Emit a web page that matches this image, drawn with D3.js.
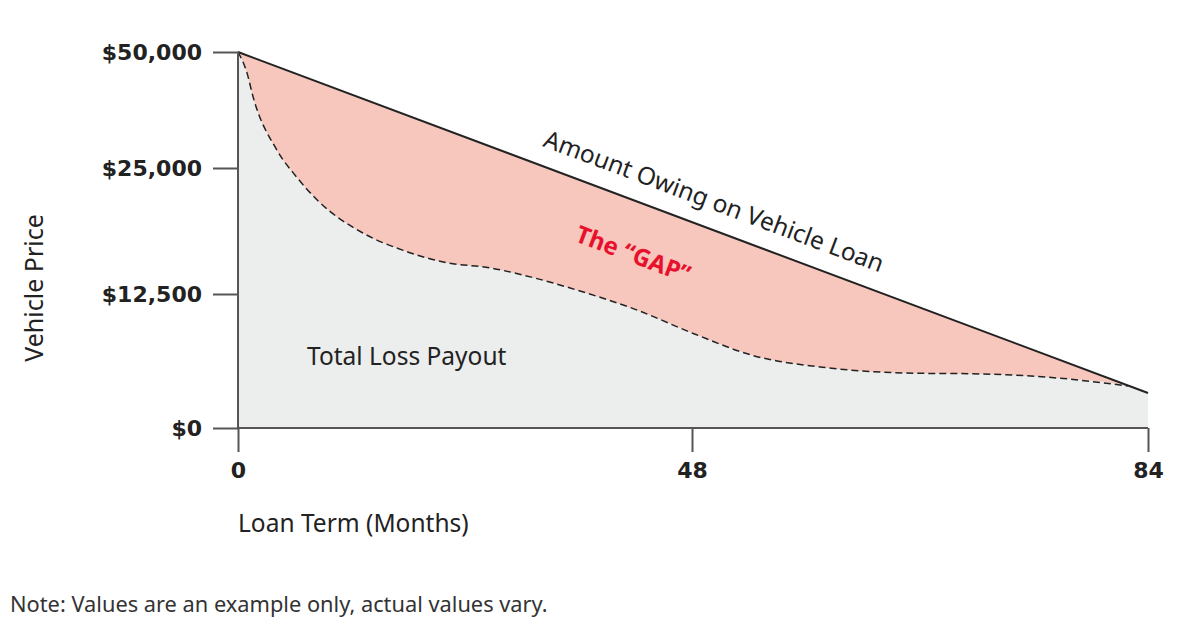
<!DOCTYPE html>
<html>
<head>
<meta charset="utf-8">
<script src="https://cdn.jsdelivr.net/npm/d3@7/dist/d3.min.js"></script>
<style>
  body { margin: 0; background: #fff; }
  text { font-family: "Noto Sans", "Open Sans", sans-serif; fill: #222; }
  .tick-label { font-family: "DejaVu Sans", sans-serif; font-weight: bold; font-size: 22px; }
</style>
</head>
<body>
<svg id="chart" width="1200" height="642"></svg>
<script>
// values
const yTicks = [0, 12500, 25000, 50000];
const yTickLabels = ["$0", "$12,500", "$25,000", "$50,000"];
const xTicks = [0, 48, 84];
const xTickLabels = ["0", "48", "84"];

const loanMonths = [0, 84];
const loanValues = [50000, 3265];

const payoutMonths = [0, 0.95, 1.6, 4.1, 6.2, 8.4, 13.2, 17.4, 22.1, 26.6, 30.9, 35.8, 42.2, 48.2, 52.7, 58.8, 64.8, 70.9, 76.9, 82.4];
const payoutValues = [50000, 45500, 40300, 28900, 24100, 21800, 18550, 16850, 15600, 15100, 14200, 12900, 11000, 8770, 6800, 5600, 5130, 5040, 4660, 3920];

const svg = d3.select("#chart");

// both axes are spaced unevenly in the original, so piecewise scales
const x = d3.scaleLinear().domain(xTicks).range([238, 692, 1148]);
const y = d3.scaleLinear().domain(yTicks).range([428, 294, 168, 52]);

const loan = loanMonths.map((m, i) => ({m, v: loanValues[i]}));
const payout = payoutMonths.map((m, i) => ({m, v: payoutValues[i]}));
const payoutTop = payout.concat([loan[loan.length - 1]]);

const area = d3.area().x(d => x(d.m)).y0(y(0)).y1(d => y(d.v));

// gap (pink) under the loan line, then payout (grey) on top
svg.append("path").datum(loan).attr("d", area).attr("fill", "#f7c6bc");
svg.append("path").datum(payoutTop).attr("d", area.curve(d3.curveMonotoneX)).attr("fill", "#eceded");

svg.append("path").datum(payout)
  .attr("d", d3.line().x(d => x(d.m)).y(d => y(d.v)).curve(d3.curveMonotoneX))
  .attr("fill", "none").attr("stroke", "#222").attr("stroke-width", 1.5)
  .attr("stroke-dasharray", "7,4");

svg.append("path").datum(loan)
  .attr("d", d3.line().x(d => x(d.m)).y(d => y(d.v)))
  .attr("fill", "none").attr("stroke", "#222").attr("stroke-width", 2);

// axes
const yAxis = d3.axisLeft(y).tickValues(yTicks).tickSize(25)
  .tickFormat((d, i) => yTickLabels[i]).tickPadding(11);
const gy = svg.append("g").attr("transform", `translate(${x(0)},0)`).call(yAxis);
gy.select(".domain").remove();

const xAxis = d3.axisBottom(x).tickValues(xTicks).tickSize(24)
  .tickFormat((d, i) => xTickLabels[i]).tickPadding(10);
const gx = svg.append("g").attr("transform", `translate(0,${y(0)})`).call(xAxis);
gx.select(".domain").remove();

svg.selectAll(".tick line").attr("stroke", "#555").attr("stroke-width", 2);
svg.selectAll(".tick text").attr("class", "tick-label").attr("fill", "#222");

svg.append("line").attr("x1", x(0)).attr("x2", x(0)).attr("y1", y(50000)).attr("y2", y(0))
  .attr("stroke", "#555").attr("stroke-width", 2);
svg.append("line").attr("x1", x(0)).attr("x2", x(84)).attr("y1", y(0)).attr("y2", y(0))
  .attr("stroke", "#555").attr("stroke-width", 2);

// labels
const ang = Math.atan2(y(loanValues[1]) - y(loanValues[0]), x(84) - x(0)) * 180 / Math.PI;

svg.append("text").attr("transform", `translate(542,146) rotate(${ang})`)
  .style("font-size", "24.5px").text("Amount Owing on Vehicle Loan");

svg.append("text").attr("transform", `translate(574,241) rotate(${ang})`)
  .style("font-size", "24px").style("font-weight", "bold").style("fill", "#e8112d")
  .text("The \u201cGAP\u201d");

svg.append("text").attr("x", 307).attr("y", 365).style("font-size", "24.5px").text("Total Loss Payout");

svg.append("text").attr("x", 238).attr("y", 532).style("font-size", "24.5px").text("Loan Term (Months)");

svg.append("text").attr("transform", "translate(43,288) rotate(-90)")
  .attr("text-anchor", "middle").style("font-size", "25px").text("Vehicle Price");

svg.append("text").attr("x", 10).attr("y", 612).style("font-size", "21.8px").style("fill", "#333")
  .text("Note: Values are an example only, actual values vary.");
</script>
</body>
</html>
